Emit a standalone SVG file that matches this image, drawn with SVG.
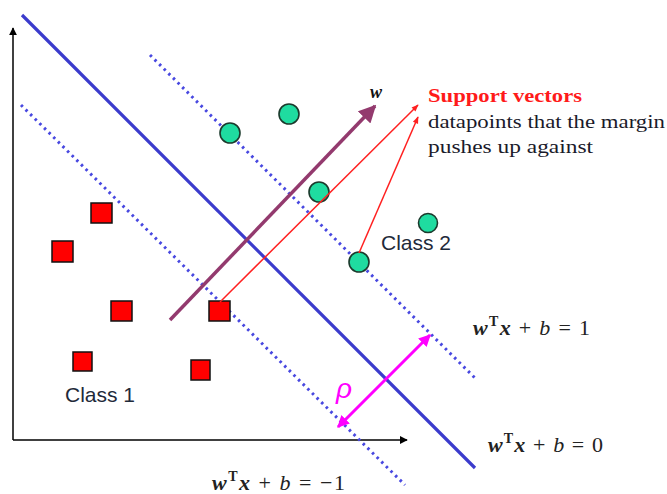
<svg xmlns="http://www.w3.org/2000/svg" width="667" height="494" viewBox="0 0 667 494">
<defs>
<style>
.axis{stroke:#000;stroke-width:1.5;fill:none}
.hyper{stroke:#3b3bcc;stroke-width:3.2;fill:none}
.margin{stroke:#4848e0;stroke-width:3;fill:none;stroke-dasharray:2.5 4}
.sq{fill:#ff0000;stroke:#111;stroke-width:1.5}
.ci{fill:#1fdca0;stroke:#1b3a2c;stroke-width:1.6}
.red{stroke:#ff2020;stroke-width:1.5;fill:none}
.cls{font-family:"Liberation Sans",Arial,sans-serif;font-size:21px;fill:#1f2a3a}
.eq{font-family:"Liberation Serif","Times New Roman",serif;font-size:22px;fill:#222}
.bi{font-weight:bold;font-style:italic}
.it{font-style:italic}
.sup{font-weight:bold;font-size:14px}
.note{font-family:"Liberation Serif","Times New Roman",serif;font-size:18px;fill:#1a1a2a}
</style>
<marker id="ah-k" viewBox="0 0 10 10" refX="9" refY="5" markerWidth="8" markerHeight="8" markerUnits="userSpaceOnUse" orient="auto"><path d="M0,0 L10,5 L0,10 z" fill="#000"/></marker>
<marker id="ah-p" viewBox="0 0 10 10" refX="9" refY="5" markerWidth="5" markerHeight="5" orient="auto"><path d="M0,0 L10,5 L0,10 z" fill="#933a6e"/></marker>
<marker id="ah-r" viewBox="0 0 10 10" refX="9" refY="5" markerWidth="10" markerHeight="7" markerUnits="userSpaceOnUse" orient="auto"><path d="M0,1 L10,5 L0,9 z" fill="#ff2020"/></marker>
<marker id="ah-m" viewBox="0 0 10 10" refX="9" refY="5" markerWidth="4" markerHeight="4" orient="auto-start-reverse"><path d="M0,0 L10,5 L0,10 z" fill="#ff00ff"/></marker>
</defs>
<rect width="667" height="494" fill="#fff"/>

<g id="axes">
<line class="axis" x1="13" y1="440" x2="13" y2="28" marker-end="url(#ah-k)"/>
<line class="axis" x1="13" y1="440" x2="407" y2="440" marker-end="url(#ah-k)"/>
</g>

<g id="hyperplanes">
<line class="hyper" x1="22" y1="15" x2="475" y2="468"/>
<line class="margin" x1="150" y1="55" x2="476" y2="379"/>
<line class="margin" x1="21" y1="105" x2="405" y2="485"/>
</g>

<g id="class1">
<rect class="sq" x="91" y="203" width="21" height="20"/>
<rect class="sq" x="52" y="241" width="21" height="21"/>
<rect class="sq" x="111" y="301" width="21" height="20"/>
<rect class="sq" x="209" y="301" width="21" height="20"/>
<rect class="sq" x="73" y="352" width="19" height="19"/>
<rect class="sq" x="191" y="360" width="19" height="20"/>
</g>

<g id="class2">
<circle class="ci" cx="230" cy="133" r="10"/>
<circle class="ci" cx="289" cy="114" r="10"/>
<circle class="ci" cx="319" cy="192" r="10"/>
<circle class="ci" cx="428" cy="223" r="9.5"/>
<circle class="ci" cx="359" cy="262" r="10"/>
</g>

<g id="connectors">
<line x1="170" y1="320" x2="375" y2="106" stroke="#933a6e" stroke-width="3.5" marker-end="url(#ah-p)"/>
<line class="red" x1="220" y1="302" x2="418" y2="105" marker-end="url(#ah-r)"/>
<line class="red" x1="359" y1="253" x2="418" y2="117" marker-end="url(#ah-r)"/>
<line x1="338" y1="427" x2="430" y2="335" stroke="#ff00ff" stroke-width="3" marker-start="url(#ah-m)" marker-end="url(#ah-m)"/>
</g>

<g id="labels">
<text x="370" y="98" font-family="Liberation Serif,serif" font-size="18" font-weight="bold" font-style="italic" fill="#111">w</text>
<text x="428" y="102" font-family="Liberation Serif,serif" font-size="18" font-weight="bold" fill="#ff1a1a" textLength="154" lengthAdjust="spacingAndGlyphs">Support vectors</text>
<text class="note" x="428" y="128" textLength="237" lengthAdjust="spacingAndGlyphs">datapoints that the margin</text>
<text class="note" x="428" y="153" textLength="165" lengthAdjust="spacingAndGlyphs">pushes up against</text>
<text class="cls" x="65" y="402">Class 1</text>
<text class="cls" x="381" y="250">Class 2</text>
<text x="336" y="398" font-family="Liberation Sans,sans-serif" font-size="28" font-style="italic" fill="#ff00ff">ρ</text>
<text class="eq" x="473" y="335" textLength="117" lengthAdjust="spacing"><tspan class="bi">w</tspan><tspan class="sup" dy="-9">T</tspan><tspan class="bi" dy="9">x</tspan><tspan> + </tspan><tspan class="it">b</tspan><tspan> = 1</tspan></text>
<text class="eq" x="488" y="452" textLength="115" lengthAdjust="spacing"><tspan class="bi">w</tspan><tspan class="sup" dy="-9">T</tspan><tspan class="bi" dy="9">x</tspan><tspan> + </tspan><tspan class="it">b</tspan><tspan> = 0</tspan></text>
<text class="eq" x="212" y="490" textLength="133" lengthAdjust="spacing"><tspan class="bi">w</tspan><tspan class="sup" dy="-9">T</tspan><tspan class="bi" dy="9">x</tspan><tspan> + </tspan><tspan class="it">b</tspan><tspan> = −1</tspan></text>
</g>
</svg>
